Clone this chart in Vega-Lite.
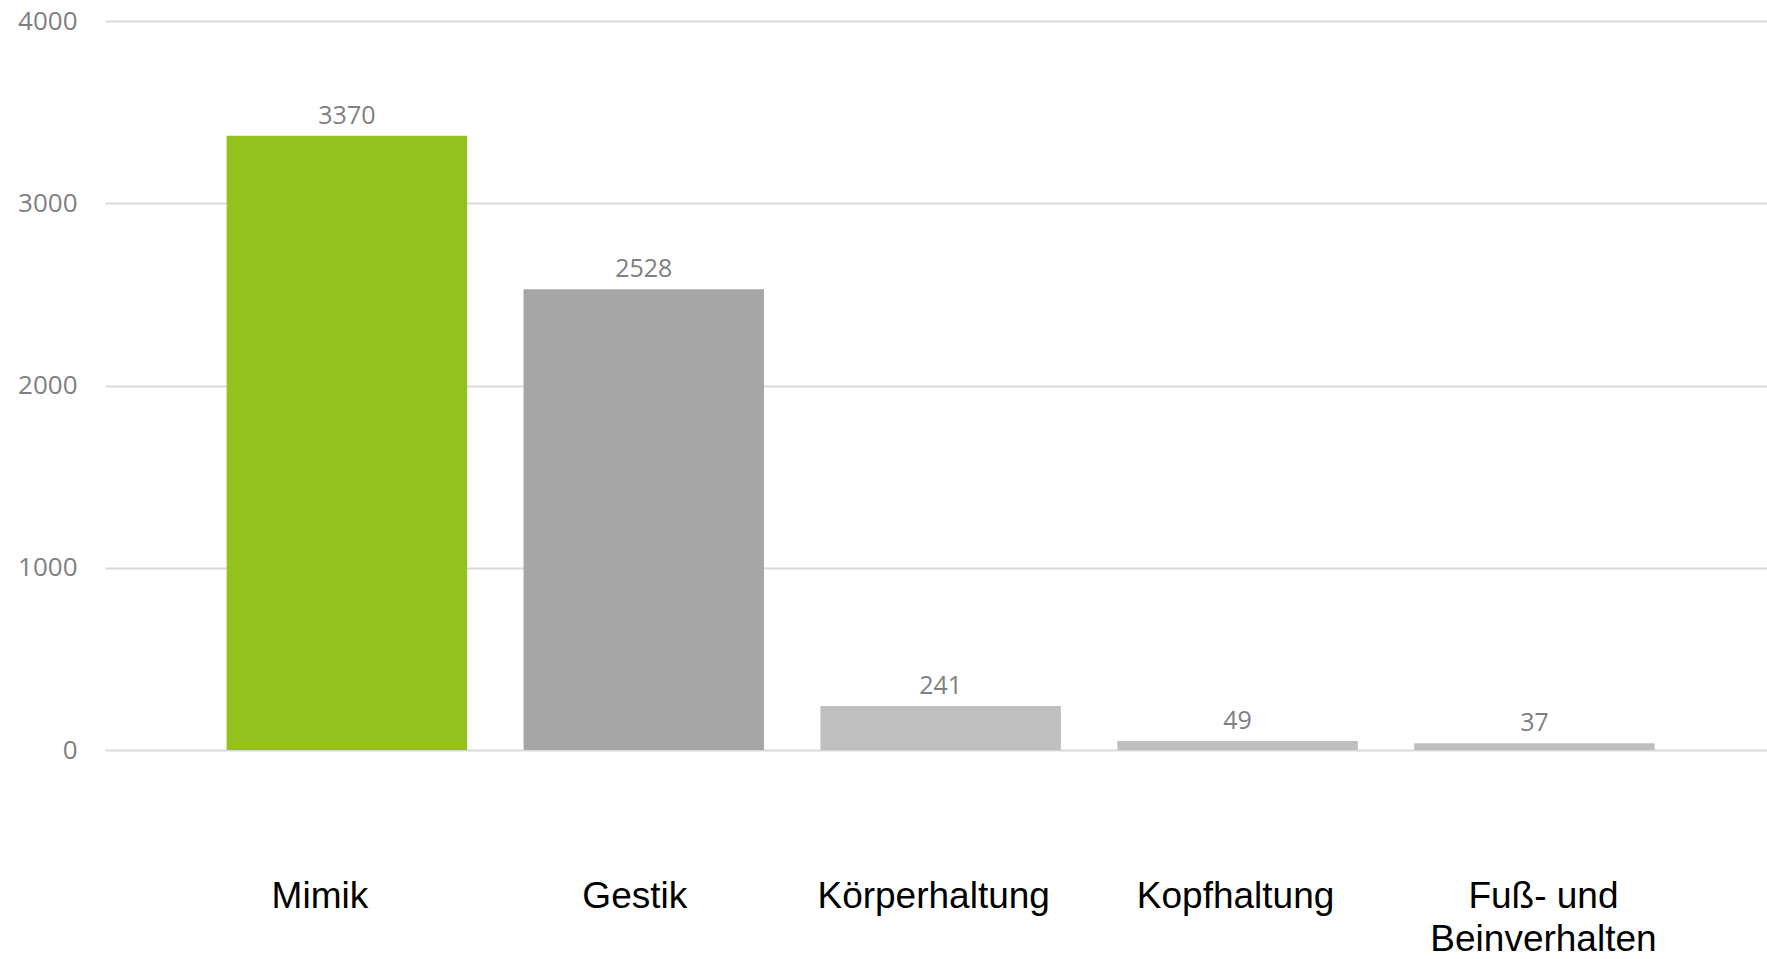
{
  "$schema": "https://vega.github.io/schema/vega-lite/v6.json",
  "autosize": {"type": "none"},
  "padding": {"left": 105, "top": 21, "right": 0, "bottom": 209},
  "width": 1662,
  "height": 729,
  "background": "white",
  "config": {"view": {"stroke": null}},
  "data": {
    "values": [
      {"kategorie": "Mimik", "anzahl": 3370},
      {"kategorie": "Gestik", "anzahl": 2528},
      {"kategorie": "Körperhaltung", "anzahl": 241},
      {"kategorie": "Kopfhaltung", "anzahl": 49},
      {"kategorie": "Fuß- und Beinverhalten", "anzahl": 37}
    ]
  },
  "encoding": {
    "x": {
      "field": "kategorie",
      "type": "nominal",
      "sort": null,
      "scale": {"paddingInner": 0.19, "paddingOuter": 0.394, "align": 0.52},
      "axis": {
        "title": null,
        "labelAngle": 0,
        "ticks": false,
        "tickSize": 0,
        "domain": false,
        "labelPadding": 128,
        "labelBaseline": "top",
        "labelFont": "Liberation Sans",
        "labelFontSize": 37,
        "labelColor": "#000000",
        "labelLineHeight": 43,
        "labelLimit": 0,
        "labelOffset": {
          "condition": [
            {"test": "datum.value === 'Mimik'", "value": -27},
            {"test": "datum.value === 'Gestik'", "value": -9},
            {"test": "datum.value === 'Körperhaltung'", "value": -7},
            {"test": "datum.value === 'Kopfhaltung'", "value": -2},
            {"test": "datum.value === 'Fuß- und Beinverhalten'", "value": 9}
          ],
          "value": 0
        },
        "labelExpr": "datum.value == 'Fuß- und Beinverhalten' ? ['Fuß- und', 'Beinverhalten'] : datum.value"
      }
    },
    "y": {
      "field": "anzahl",
      "type": "quantitative",
      "scale": {"domain": [0, 4000], "nice": false},
      "axis": {
        "title": null,
        "values": [0, 1000, 2000, 3000, 4000],
        "format": "d",
        "ticks": false,
        "domain": false,
        "labelPadding": 28,
        "labelFont": "Open Sans",
        "labelFontSize": 26,
        "labelColor": "#808080",
        "grid": true,
        "gridColor": "#D9D9D9",
        "gridWidth": 2
      }
    }
  },
  "layer": [
    {
      "mark": {"type": "bar"},
      "encoding": {
        "color": {
          "field": "kategorie",
          "type": "nominal",
          "sort": null,
          "scale": {
            "domain": ["Mimik", "Gestik", "Körperhaltung", "Kopfhaltung", "Fuß- und Beinverhalten"],
            "range": ["#95C11F", "#A6A6A6", "#BFBFBF", "#BFBFBF", "#BFBFBF"]
          },
          "legend": null
        }
      }
    },
    {
      "mark": {
        "type": "text",
        "baseline": "alphabetic",
        "dy": -12,
        "font": "Open Sans",
        "fontSize": 25,
        "color": "#808080"
      },
      "encoding": {
        "text": {"field": "anzahl", "type": "quantitative", "format": "d"}
      }
    }
  ]
}
